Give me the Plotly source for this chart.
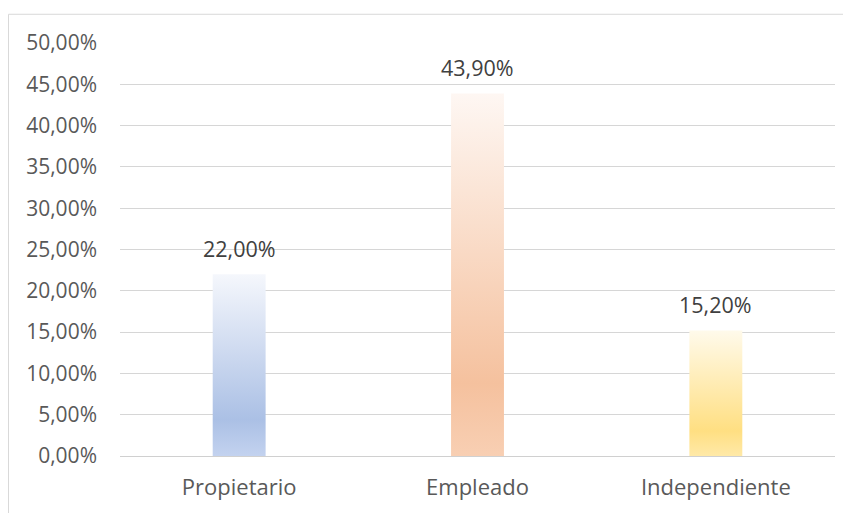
import plotly.graph_objects as go

categories = ["Propietario", "Empleado", "Independiente"]
values = [0.22, 0.439, 0.152]
labels = ["22,00%", "43,90%", "15,20%"]
tick_vals = [0, 0.05, 0.10, 0.15, 0.20, 0.25, 0.30, 0.35, 0.40, 0.45, 0.50]
tick_text = ["0,00%", "5,00%", "10,00%", "15,00%", "20,00%", "25,00%",
             "30,00%", "35,00%", "40,00%", "45,00%", "50,00%"]

# gradient colours per bar: (bottom, saturated band, top)
gradients = [
    ("#c3d2ef", "#abc0e5", "#f5f7fc"),
    ("#f8cfb3", "#f5c19e", "#fef7f3"),
    ("#ffe9a8", "#ffdf82", "#fffaeb"),
]

FONT = "Open Sans"
half_w = 0.111

# figure is placed at (8, 8) in the page
W, H = 843, 505
L, R, T, B = 112, 16, 35, 53

fig = go.Figure()
for i, (cat, v) in enumerate(zip(categories, values)):
    b, m, t = gradients[i]
    fig.add_trace(go.Scatter(
        x=[i - half_w, i + half_w, i + half_w, i - half_w, i - half_w],
        y=[0, 0, v, v, 0],
        mode="lines",
        line=dict(width=0),
        fill="toself",
        fillgradient=dict(type="vertical",
                          colorscale=[[0, b], [0.2, m], [1, t]]),
        hoverinfo="skip",
        showlegend=False,
        name=cat,
    ))
    fig.add_annotation(x=i, y=v, text=labels[i], showarrow=False,
                       yanchor="bottom", yshift=9,
                       font=dict(family=FONT, size=21.5, color="#404040"))

ph = H - T - B
pw = W - L - R
fig.update_layout(
    width=W, height=H,
    margin=dict(l=L, r=R, t=T, b=B),
    paper_bgcolor="white", plot_bgcolor="white",
    font=dict(family=FONT, size=21, color="#595959"),
    xaxis=dict(range=[-0.5, 2.5], tickmode="array", tickvals=[0, 1, 2],
               ticktext=categories, showgrid=False, zeroline=False,
               showline=False, ticks="", ticklabelstandoff=16,
               tickfont=dict(family=FONT, size=22, color="#595959")),
    yaxis=dict(range=[0, 0.5], tickmode="array", tickvals=tick_vals,
               ticktext=tick_text, showgrid=True, gridcolor="#d6d6d6",
               gridwidth=1, zeroline=True, zerolinecolor="#d0d0d0",
               zerolinewidth=1, showline=False, ticks="",
               ticklabelstandoff=22,
               tickfont=dict(family=FONT, size=21, color="#595959")),
    shapes=[dict(type="rect", xref="paper", yref="paper",
                 x0=(0.5 - L) / pw, x1=(W + 50 - L) / pw,
                 y0=-(B + 50) / ph, y1=1 + (T - 6) / ph,
                 line=dict(color="#d9d9d9", width=1), layer="below")],
)

fig.write_html("out.html")
